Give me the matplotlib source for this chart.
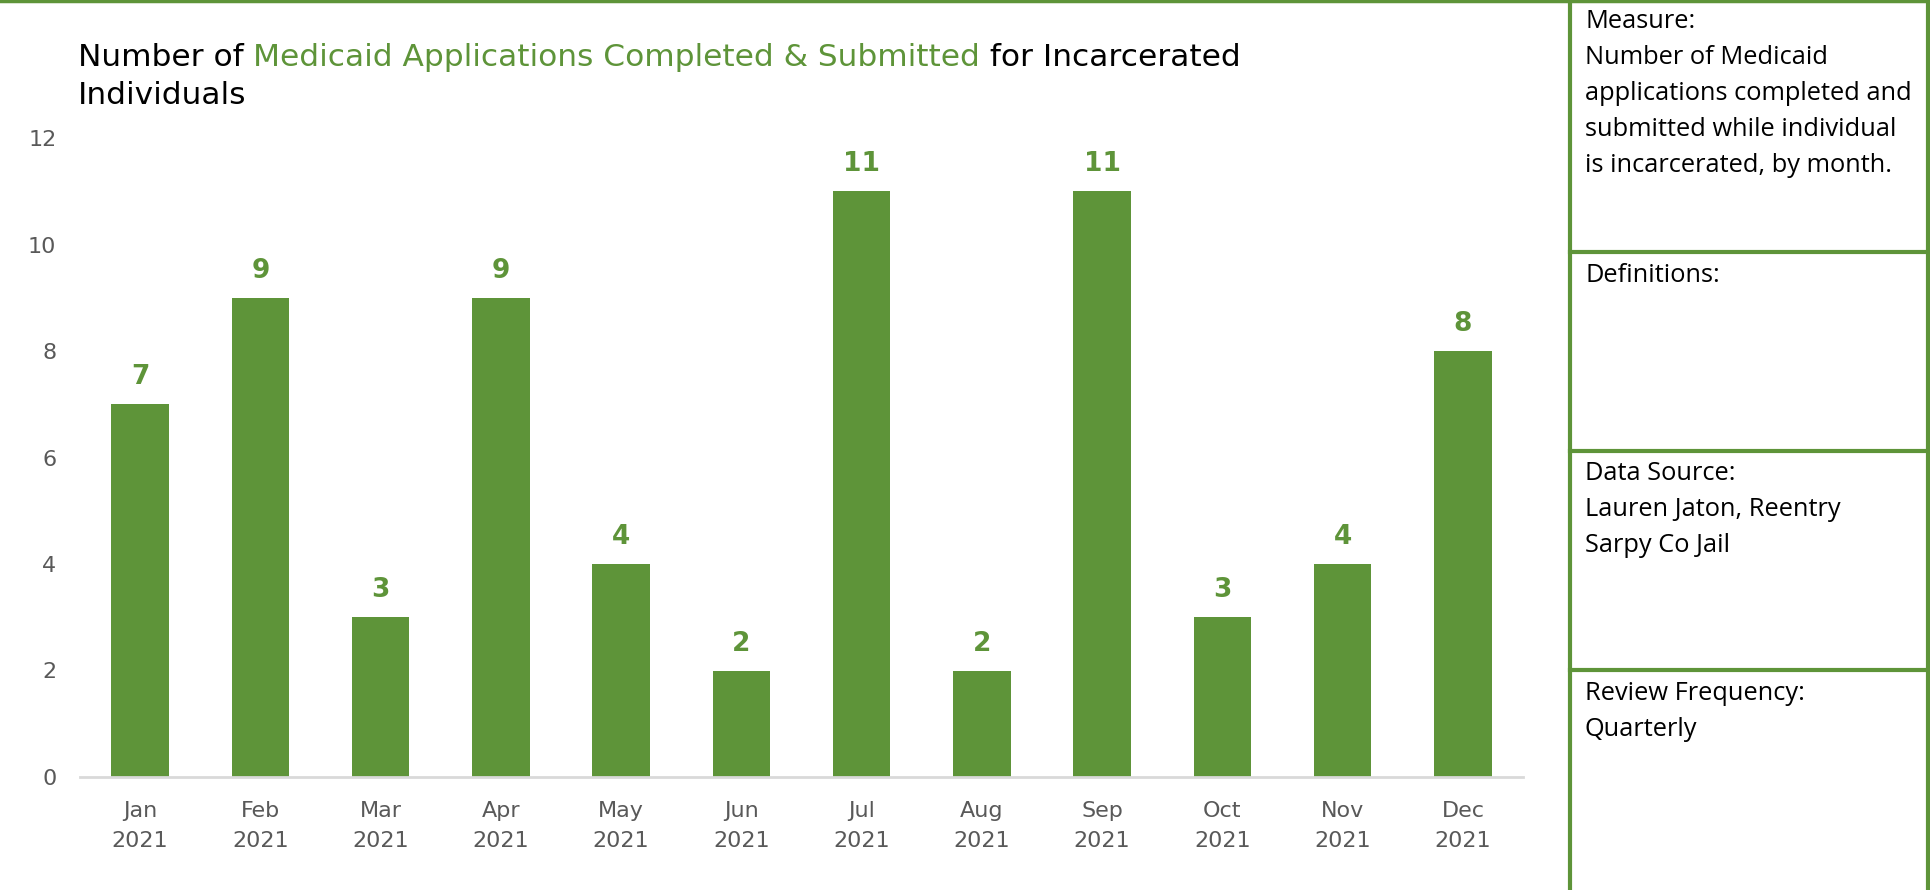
import matplotlib
matplotlib.use("Agg")
import matplotlib.pyplot as plt
from matplotlib.lines import Line2D

months = ["Jan\n2021", "Feb\n2021", "Mar\n2021", "Apr\n2021", "May\n2021", "Jun\n2021",
          "Jul\n2021", "Aug\n2021", "Sep\n2021", "Oct\n2021", "Nov\n2021", "Dec\n2021"]
values = [7, 9, 3, 9, 4, 2, 11, 2, 11, 3, 4, 8]
yticks = [0, 2, 4, 6, 8, 10, 12]

title_parts = [("Number of ", "black"),
               ("Medicaid Applications Completed & Submitted", "green"),
               (" for Incarcerated", "black")]
title_line2 = "Individuals"

panel_texts = [
    ["Measure:", "Number of Medicaid", "applications completed and",
     "submitted while individual", "is incarcerated, by month."],
    ["Definitions:"],
    ["Data Source:", "Lauren Jaton, Reentry", "Sarpy Co Jail"],
    ["Review Frequency:", "Quarterly"],
]

GREEN = "#5E9439"
GRAY = "#595959"
W, H = 1930, 890
fig = plt.figure(figsize=(W / 100, H / 100), dpi=100)

def fx(px):
    return px / W

def fy(py):
    return 1 - py / H

ax = fig.add_axes([fx(80), fy(777), fx(1523) - fx(80), fy(138) - fy(777)])
x = list(range(len(values)))
bars = ax.bar(x, values, width=0.48, color=GREEN, zorder=2)
ax.set_xlim(-0.5, len(values) - 0.5)
ax.set_ylim(0, 12)
ax.set_yticks(yticks)
ax.set_xticks(x)
ax.set_xticklabels(months, fontsize=16, color=GRAY, linespacing=1.62)
ax.tick_params(axis="y", labelsize=16, labelcolor=GRAY, length=0, pad=17)
ax.tick_params(axis="x", length=0, pad=17)
for s in ["top", "right", "left"]:
    ax.spines[s].set_visible(False)
ax.spines["bottom"].set_color("#D9D9D9")
ax.spines["bottom"].set_linewidth(2)
for b, v in zip(bars, values):
    ax.annotate(str(v), (b.get_x() + b.get_width() / 2, v), xytext=(0, 10),
                textcoords="offset points", ha="center", va="bottom",
                fontsize=19, fontweight="bold", color=GREEN)

# Title with mixed colours
fig.canvas.draw()
renderer = fig.canvas.get_renderer()
xpos = fx(78)
for txt, col in title_parts:
    t = fig.text(xpos, fy(57), txt, fontsize=22.5, color=(GREEN if col == "green" else "black"),
                 ha="left", va="center")
    bb = t.get_window_extent(renderer=renderer)
    xpos += bb.width / W
fig.text(fx(78), fy(95), title_line2, fontsize=22.5, color="black", ha="left", va="center")

# Borders
lw = 3
def hline(x0, x1, y, lw=lw):
    fig.add_artist(Line2D([fx(x0), fx(x1)], [fy(y), fy(y)], color=GREEN, linewidth=lw,
                          transform=fig.transFigure))
def vline(x, y0, y1):
    fig.add_artist(Line2D([fx(x), fx(x)], [fy(y0), fy(y1)], color=GREEN, linewidth=lw,
                          transform=fig.transFigure))

hline(0, W, 1, lw=2.5)
vline(1570, 0, H)
vline(1928, 0, H)
for yy in [252, 451, 670]:
    hline(1570, W, yy)

# Panel texts
starts = [21, 276, 473, 693]
for lines, y0 in zip(panel_texts, starts):
    for i, ln in enumerate(lines):
        fig.text(fx(1585), fy(y0 + i * 36), ln, fontsize=18.3, color="black",
                 family="Open Sans", ha="left", va="center")

fig.savefig("out.png", dpi=100)
